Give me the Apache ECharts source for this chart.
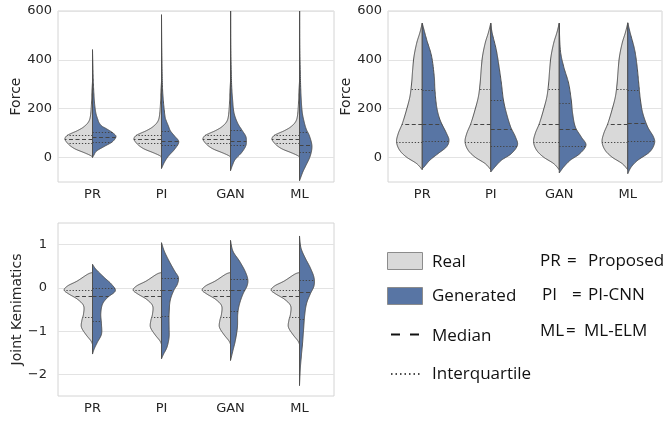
<!DOCTYPE html>
<html><head><meta charset="utf-8">
<script src="https://cdn.jsdelivr.net/npm/echarts@6/dist/echarts.min.js"></script>
<style>html,body{margin:0;padding:0;background:#fff}#c{width:663px;height:422px}</style>
</head><body><div id="c"></div>
<script>
// ---------- data ----------
const categories = ['PR', 'PI', 'GAN', 'ML'];
const forceTickLabels = [0, 200, 400, 600];
const jointTickLabels = [-2, -1, 0, 1];

// Density profiles: [value, half-width as fraction of category band]
// Panel 1 (Force, top-left)
const p1Real = [[3,0],[10,0.04],[20,0.12],[35,0.25],[50,0.33],[65,0.38],[77,0.40],[90,0.37],[100,0.30],[110,0.22],[125,0.13],[145,0.06],[170,0.03],[220,0.015],[270,0.008],[310,0]];
const p1GenPR = [[0,0],[10,0.02],[27,0.06],[47,0.18],[65,0.29],[86,0.34],[100,0.30],[108,0.26],[120,0.19],[129,0.135],[143,0.095],[156,0.077],[175,0.055],[197,0.04],[238,0.025],[307,0.012],[380,0.005],[442,0]];
const p1GenPI = [[-45,0],[-20,0.04],[6,0.10],[34,0.19],[64,0.25],[88,0.19],[109,0.13],[129,0.10],[150,0.07],[170,0.05],[238,0.025],[307,0.012],[450,0.004],[585,0]];
const p1GenGAN = [[-54,0],[-30,0.03],[-7,0.07],[20,0.16],[47,0.22],[68,0.23],[88,0.22],[115,0.16],[143,0.10],[184,0.05],[238,0.03],[307,0.015],[450,0.005],[650,0.003],[700,0]];
const p1GenML = [[-95,0],[-61,0.045],[-34,0.09],[6,0.155],[47,0.18],[88,0.145],[115,0.10],[143,0.07],[184,0.04],[238,0.025],[307,0.015],[450,0.005],[650,0.003],[700,0]];
const p1RealQ = [58, 77, 92];
const p1GenQ = [[65, 86, 104], [50, 68, 109], [50, 69, 111], [24, 53, 105]];

// Panel 2 (Force, top-right)
const p2Real = [[-50,0],[-25,0.08],[2,0.23],[30,0.33],[64,0.375],[99,0.35],[140,0.29],[195,0.23],[250,0.18],[305,0.155],[360,0.14],[415,0.12],[470,0.08],[511,0.035],[550,0]];
const p2GenPR = [[-45,0],[-39,0.025],[-11,0.11],[16,0.23],[44,0.355],[71,0.39],[99,0.355],[154,0.26],[209,0.21],[278,0.185],[332,0.175],[415,0.136],[484,0.063],[550,0]];
const p2GenPI = [[-59,0],[-39,0.06],[-11,0.155],[16,0.30],[51,0.39],[85,0.36],[126,0.29],[181,0.23],[236,0.185],[305,0.155],[374,0.12],[442,0.08],[511,0.02],[550,0]];
const p2GenGAN = [[-63,0],[-39,0.063],[-11,0.16],[16,0.30],[51,0.39],[85,0.32],[126,0.234],[181,0.195],[236,0.175],[305,0.136],[374,0.063],[442,0.015],[550,0]];
const p2GenML = [[-66,0],[-39,0.05],[-11,0.146],[23,0.32],[58,0.39],[85,0.375],[126,0.29],[181,0.22],[236,0.185],[305,0.16],[374,0.136],[442,0.10],[511,0.035],[552,0]];
const p2RealQ = [63, 137, 280];
const p2GenQ = [[66, 139, 278], [49, 119, 236], [49, 119, 225], [69, 143, 275]];

// Panel 3 (Joint Kenimatics, bottom-left)
const p3Real = [[-1.3,0],[-1.22,0.025],[-1.07,0.10],[-0.91,0.16],[-0.76,0.155],[-0.6,0.13],[-0.41,0.13],[-0.26,0.22],[-0.145,0.34],[-0.053,0.41],[0.046,0.36],[0.16,0.22],[0.316,0.07],[0.355,0]];
const p3GenPR = [[-1.53,0],[-1.41,0.025],[-1.26,0.07],[-1.07,0.13],[-0.84,0.13],[-0.6,0.12],[-0.375,0.145],[-0.22,0.22],[-0.07,0.33],[0.085,0.275],[0.24,0.17],[0.43,0.05],[0.546,0]];
const p3GenPI = [[-1.64,0],[-1.53,0.03],[-1.37,0.08],[-1.14,0.11],[-0.91,0.11],[-0.6,0.11],[-0.3,0.125],[-0.07,0.175],[0.085,0.23],[0.24,0.245],[0.39,0.19],[0.62,0.11],[0.85,0.04],[1.045,0]];
const p3GenGAN = [[-1.68,0],[-1.45,0.035],[-1.22,0.07],[-0.91,0.10],[-0.6,0.105],[-0.375,0.13],[-0.145,0.18],[0.046,0.24],[0.2,0.25],[0.39,0.21],[0.62,0.13],[0.85,0.035],[1.1,0]];
const p3GenML = [[-2.26,0],[-1.91,0.01],[-1.6,0.025],[-1.3,0.043],[-0.99,0.058],[-0.68,0.072],[-0.375,0.10],[-0.145,0.155],[0.046,0.21],[0.24,0.21],[0.47,0.155],[0.7,0.08],[0.93,0.02],[1.2,0]];
const p3RealQ = [-0.67, -0.18, -0.04];
const p3GenQ = [[-0.77, -0.18, 0.0], [-0.65, -0.04, 0.23], [-0.54, -0.04, 0.21], [-0.73, -0.1, 0.19]];

// ---------- drawing ----------
const REAL_FILL = '#d9d9d9';
const GEN_FILL = '#5875a4';
const OUTLINE = '#4f4f4f';
const FONT = 'DejaVu Sans';
const TXT = '#262626';

function catmull(pts) {
  const out = [];
  const n = pts.length;
  const S = 14;
  for (let i = 0; i < n - 1; i++) {
    const p0 = pts[Math.max(i - 1, 0)], p1 = pts[i], p2 = pts[i + 1], p3 = pts[Math.min(i + 2, n - 1)];
    for (let k = 0; k < S; k++) {
      const t = k / S, t2 = t * t, t3 = t2 * t;
      const f = (a, b, c, d) => 0.5 * (2 * b + (-a + c) * t + (2 * a - 5 * b + 4 * c - d) * t2 + (-a + 3 * b - 3 * c + d) * t3);
      out.push([Math.max(0, f(p0[0], p1[0], p2[0], p3[0])), f(p0[1], p1[1], p2[1], p3[1])]);
    }
  }
  out.push([pts[n - 1][0], pts[n - 1][1]]);
  return out;
}
function widthAt(dense, y) {
  for (let i = 0; i < dense.length - 1; i++) {
    const a = dense[i], b = dense[i + 1];
    if ((a[1] - y) * (b[1] - y) <= 0 && a[1] !== b[1]) {
      const t = (y - a[1]) / (b[1] - a[1]);
      return a[0] + t * (b[0] - a[0]);
    }
  }
  return 0;
}
function makeRender(realProf, genProfs, realQ, genQ) {
  return function (params, api) {
    const ci = api.value(0), side = api.value(1);
    const prof = side === 0 ? realProf : genProfs[ci];
    const q = side === 0 ? realQ : genQ[ci];
    const dir = side === 0 ? -1 : 1;
    const cx = api.coord([ci, 0])[0];
    const band = api.size([1, 0])[0];
    const raw = prof.map(p => [p[1] * band, api.coord([ci, p[0]])[1]]);
    const dense = catmull(raw);
    const poly = dense.map(p => [cx + dir * p[0], p[1]]);
    const children = [{
      type: 'polygon', shape: { points: poly },
      style: { fill: side === 0 ? REAL_FILL : GEN_FILL, stroke: OUTLINE, lineWidth: 1 }
    }];
    q.forEach((qv, k) => {
      const y = Math.round(api.coord([ci, qv])[1]) + 0.5;
      const w = widthAt(dense, y);
      children.push({
        type: 'line', shape: { x1: cx, y1: y, x2: cx + dir * w, y2: y },
        style: { stroke: '#444', lineWidth: 1, lineDash: k === 1 ? [4, 2.5] : [1.3, 1.8] }
      });
    });
    return { type: 'group', children };
  };
}
const violinItems = [];
categories.forEach((c, i) => { violinItems.push([i, 0]); violinItems.push([i, 1]); });

function xAxis(g) {
  return {
    type: 'category', gridIndex: g, data: categories,
    axisLine: { show: false }, axisTick: { show: false }, splitLine: { show: false },
    axisLabel: { fontFamily: FONT, fontSize: 13, color: TXT, margin: 6 }
  };
}
function forceAxis(g) {
  return {
    type: 'value', gridIndex: g, min: -100, max: 600, interval: 100,
    axisLine: { show: false }, axisTick: { show: false },
    axisLabel: { fontFamily: FONT, fontSize: 13, color: TXT, margin: 6,
      formatter: v => forceTickLabels.includes(v) ? String(v) : '' },
    splitLine: { show: true, lineStyle: { color: ['rgba(0,0,0,0)', '#e3e3e3'], width: 1 } },
    name: 'Force', nameLocation: 'middle', nameGap: 30,
    nameTextStyle: { fontFamily: FONT, fontSize: 14, color: TXT }
  };
}
const gridStyle = { show: true, borderColor: '#d4d4d4', borderWidth: 1, backgroundColor: '#fff' };

const legendFont = 'Open Sans';
const option = {
  animation: false,
  backgroundColor: '#fff',
  grid: [
    Object.assign({ left: 58, top: 11, width: 276, height: 171 }, gridStyle),
    Object.assign({ left: 388, top: 11, width: 274, height: 171 }, gridStyle),
    Object.assign({ left: 58, top: 223, width: 276, height: 173 }, gridStyle)
  ],
  xAxis: [xAxis(0), xAxis(1), xAxis(2)],
  yAxis: [
    forceAxis(0), forceAxis(1),
    {
      type: 'value', gridIndex: 2, min: -2.5, max: 1.5, interval: 0.5,
      axisLine: { show: false }, axisTick: { show: false },
      axisLabel: { fontFamily: FONT, fontSize: 13, color: TXT, margin: 11,
        formatter: v => jointTickLabels.includes(v) ? (v < 0 ? '\u2212' + Math.abs(v) : String(v)) : '' },
      splitLine: { show: true, lineStyle: { color: ['rgba(0,0,0,0)', '#e3e3e3'], width: 1 } },
      name: 'Joint Kenimatics', nameLocation: 'middle', nameGap: 30,
      nameTextStyle: { fontFamily: FONT, fontSize: 14, color: TXT }
    }
  ],
  series: [
    { type: 'custom', xAxisIndex: 0, yAxisIndex: 0, clip: true, data: violinItems,
      renderItem: makeRender(p1Real, [p1GenPR, p1GenPI, p1GenGAN, p1GenML], p1RealQ, p1GenQ) },
    { type: 'custom', xAxisIndex: 1, yAxisIndex: 1, clip: true, data: violinItems,
      renderItem: makeRender(p2Real, [p2GenPR, p2GenPI, p2GenGAN, p2GenML], p2RealQ, p2GenQ) },
    { type: 'custom', xAxisIndex: 2, yAxisIndex: 2, clip: true, data: violinItems,
      renderItem: makeRender(p3Real, [p3GenPR, p3GenPI, p3GenGAN, p3GenML], p3RealQ, p3GenQ) }
  ],
  graphic: [
    { type: 'rect', shape: { x: 387.5, y: 252.5, width: 35, height: 17 }, style: { fill: REAL_FILL, stroke: '#8c8c8c', lineWidth: 1 } },
    { type: 'rect', shape: { x: 387.5, y: 287.5, width: 35, height: 17 }, style: { fill: GEN_FILL, stroke: '#8c8c8c', lineWidth: 1 } },
    { type: 'line', shape: { x1: 391, y1: 334.5, x2: 400, y2: 334.5 }, style: { stroke: '#111', lineWidth: 2 } },
    { type: 'line', shape: { x1: 410, y1: 334.5, x2: 419, y2: 334.5 }, style: { stroke: '#111', lineWidth: 2 } },
    { type: 'line', shape: { x1: 391, y1: 374, x2: 420, y2: 374 }, style: { stroke: '#111', lineWidth: 1.5, lineDash: [1.5, 3] } },
    { type: 'text', x: 432, y: 262, style: { text: 'Real', font: '17px "' + legendFont + '"', fill: '#111', verticalAlign: 'middle' } },
    { type: 'text', x: 432, y: 296.5, style: { text: 'Generated', font: '17px "' + legendFont + '"', fill: '#111', verticalAlign: 'middle' } },
    { type: 'text', x: 432, y: 336.5, style: { text: 'Median', font: '17px "' + legendFont + '"', fill: '#111', verticalAlign: 'middle' } },
    { type: 'text', x: 432, y: 374.5, style: { text: 'Interquartile', font: '17px "' + legendFont + '"', fill: '#111', verticalAlign: 'middle' } },
    { type: 'text', x: 540, y: 261.5, style: { text: 'PR', font: '17px "' + legendFont + '"', fill: '#111', verticalAlign: 'middle' } },
    { type: 'text', x: 567, y: 261.5, style: { text: '=', font: '17px "' + legendFont + '"', fill: '#111', verticalAlign: 'middle' } },
    { type: 'text', x: 588, y: 261.5, style: { text: 'Proposed', font: '17px "' + legendFont + '"', fill: '#111', verticalAlign: 'middle' } },
    { type: 'text', x: 542, y: 295.5, style: { text: 'PI', font: '17px "' + legendFont + '"', fill: '#111', verticalAlign: 'middle' } },
    { type: 'text', x: 572, y: 295.5, style: { text: '=', font: '17px "' + legendFont + '"', fill: '#111', verticalAlign: 'middle' } },
    { type: 'text', x: 588, y: 295.5, style: { text: 'PI-CNN', font: '17px "' + legendFont + '"', fill: '#111', verticalAlign: 'middle' } },
    { type: 'text', x: 540, y: 331, style: { text: 'ML', font: '17px "' + legendFont + '"', fill: '#111', verticalAlign: 'middle' } },
    { type: 'text', x: 566, y: 331, style: { text: '=', font: '17px "' + legendFont + '"', fill: '#111', verticalAlign: 'middle' } },
    { type: 'text', x: 584, y: 331, style: { text: 'ML-ELM', font: '17px "' + legendFont + '"', fill: '#111', verticalAlign: 'middle' } }
  ]
};
const chart = echarts.init(document.getElementById('c'), null, { renderer: 'canvas' });
chart.setOption(option);
</script>
</body></html>
